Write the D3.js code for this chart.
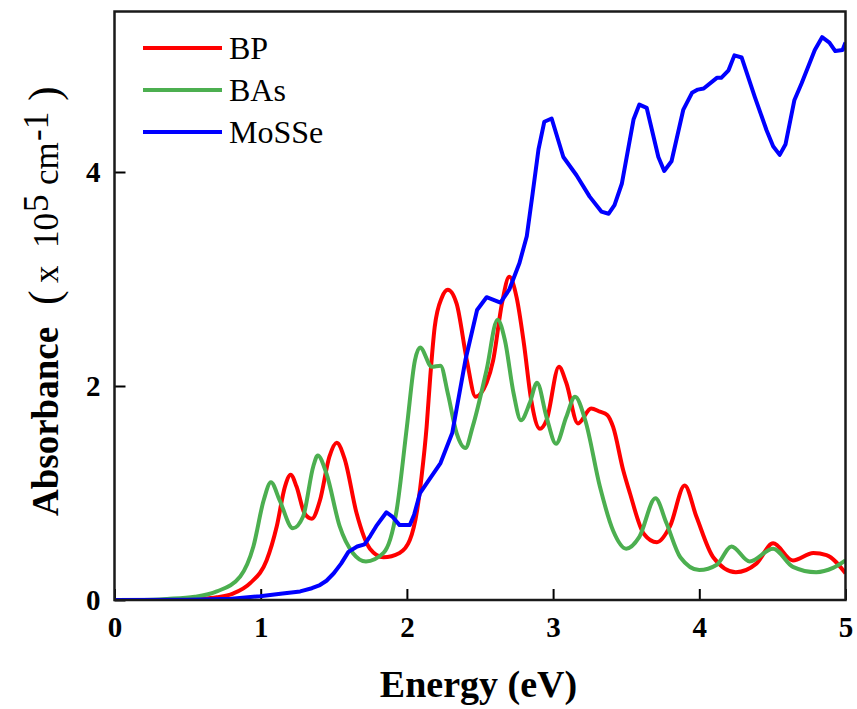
<!DOCTYPE html>
<html>
<head>
<meta charset="utf-8">
<script src="https://cdn.jsdelivr.net/npm/d3@7"></script>
<style>
  body { margin: 0; background: #fff; }
  svg { display: block; }
</style>
</head>
<body>
<div id="chart"></div>
<script>
// Energy (eV) and absorbance (x 10^5 cm^-1)
const bpEnergy = [0, 0.3, 0.5, 0.6, 0.7, 0.81, 0.93, 1.04, 1.11, 1.166, 1.205, 1.245, 1.30, 1.35, 1.405, 1.47, 1.52, 1.576, 1.656, 1.747, 1.84, 1.95, 2.02, 2.07, 2.10, 2.135, 2.16, 2.19, 2.24, 2.28, 2.34, 2.41, 2.47, 2.545, 2.59, 2.65, 2.70, 2.75, 2.80, 2.85, 2.91, 2.955, 3.04, 3.09, 3.17, 3.26, 3.32, 3.37, 3.41, 3.48, 3.525, 3.62, 3.71, 3.80, 3.90, 3.98, 4.095, 4.25, 4.39, 4.505, 4.64, 4.78, 4.87, 5.0];
const bpValues = [0, 0.001, 0.004, 0.01, 0.025, 0.06, 0.16, 0.37, 0.69, 1.06, 1.17, 1.06, 0.81, 0.76, 0.93, 1.34, 1.47, 1.31, 0.81, 0.48, 0.40, 0.44, 0.56, 0.84, 1.15, 1.62, 2.09, 2.55, 2.83, 2.90, 2.77, 2.24, 1.90, 2.03, 2.24, 2.77, 3.02, 2.83, 2.40, 1.87, 1.60, 1.68, 2.18, 2.03, 1.65, 1.79, 1.76, 1.73, 1.62, 1.21, 1.0, 0.62, 0.54, 0.69, 1.07, 0.78, 0.40, 0.26, 0.34, 0.53, 0.37, 0.44, 0.42, 0.25];

const basEnergy = [0, 0.2, 0.36, 0.55, 0.70, 0.86, 0.95, 1.02, 1.07, 1.13, 1.22, 1.29, 1.36, 1.39, 1.45, 1.54, 1.63, 1.72, 1.84, 1.93, 2.0, 2.055, 2.09, 2.17, 2.23, 2.28, 2.34, 2.40, 2.45, 2.545, 2.62, 2.67, 2.73, 2.78, 2.84, 2.89, 2.955, 3.02, 3.09, 3.15, 3.22, 3.32, 3.41, 3.50, 3.59, 3.70, 3.775, 3.87, 4.0, 4.12, 4.22, 4.345, 4.505, 4.64, 4.80, 4.915, 5.0];
const basValues = [0, 0.001, 0.01, 0.03, 0.08, 0.22, 0.50, 0.93, 1.10, 0.93, 0.67, 0.78, 1.25, 1.35, 1.18, 0.69, 0.44, 0.36, 0.44, 0.84, 1.62, 2.24, 2.36, 2.18, 2.19, 1.93, 1.56, 1.42, 1.62, 2.15, 2.62, 2.43, 1.93, 1.68, 1.84, 2.03, 1.71, 1.46, 1.71, 1.90, 1.68, 1.06, 0.65, 0.48, 0.59, 0.95, 0.72, 0.40, 0.28, 0.33, 0.50, 0.36, 0.48, 0.31, 0.26, 0.30, 0.37];

const mosseEnergy = [0, 0.5, 0.8, 0.995, 1.15, 1.27, 1.35, 1.405, 1.45, 1.50, 1.55, 1.60, 1.66, 1.71, 1.75, 1.79, 1.86, 1.90, 1.95, 2.02, 2.05, 2.09, 2.135, 2.23, 2.31, 2.40, 2.48, 2.545, 2.64, 2.70, 2.77, 2.82, 2.86, 2.90, 2.94, 2.99, 3.07, 3.16, 3.25, 3.33, 3.38, 3.42, 3.47, 3.55, 3.59, 3.64, 3.72, 3.76, 3.81, 3.89, 3.95, 3.99, 4.03, 4.12, 4.15, 4.20, 4.24, 4.29, 4.38, 4.46, 4.505, 4.55, 4.59, 4.65, 4.70, 4.79, 4.84, 4.89, 4.93, 4.98, 5.0];
const mosseValues = [0, 0.003, 0.012, 0.035, 0.06, 0.08, 0.11, 0.14, 0.18, 0.25, 0.34, 0.45, 0.50, 0.52, 0.60, 0.69, 0.82, 0.78, 0.70, 0.70, 0.80, 1.0, 1.09, 1.28, 1.56, 2.24, 2.71, 2.83, 2.78, 2.90, 3.15, 3.40, 3.80, 4.21, 4.47, 4.50, 4.14, 3.97, 3.77, 3.63, 3.61, 3.69, 3.89, 4.49, 4.63, 4.60, 4.14, 4.01, 4.10, 4.58, 4.74, 4.77, 4.78, 4.88, 4.88, 4.95, 5.09, 5.07, 4.70, 4.39, 4.24, 4.16, 4.26, 4.67, 4.83, 5.14, 5.26, 5.21, 5.13, 5.14, 5.21];

const seriesNames = ["BP", "BAs", "MoSSe"];
const xTicks = [0, 1, 2, 3, 4, 5];
const yTicks = [0, 2, 4];

const series = [
  {name: seriesNames[0], color: "#ff0000", curve: d3.curveMonotoneX,
   pts: bpEnergy.map((e, i) => [e, bpValues[i]])},
  {name: seriesNames[1], color: "#4caf50", curve: d3.curveMonotoneX,
   pts: basEnergy.map((e, i) => [e, basValues[i]])},
  {name: seriesNames[2], color: "#0000ff", curve: d3.curveLinear,
   pts: mosseEnergy.map((e, i) => [e, mosseValues[i]])}
];

const W = 857, H = 709;
const margin = {top: 11.5, right: 11.5, bottom: 109, left: 114.5};
const width = W - margin.left - margin.right,
      height = H - margin.top - margin.bottom;

const svg = d3.select("#chart").append("svg")
  .attr("width", W)
  .attr("height", H);

const g = svg.append("g")
  .attr("transform", `translate(${margin.left},${margin.top})`);

const x = d3.scaleLinear().domain([0, 5]).range([0, width]);
const y = d3.scaleLinear().domain([0, 5.5]).range([height, 0]);

const font = "'Liberation Serif', 'Times New Roman', serif";

// x axis, ticks pointing inward
const xAxis = g.append("g")
  .attr("transform", `translate(0,${height})`)
  .call(d3.axisBottom(x).tickValues(xTicks).tickFormat(d3.format("d"))
    .tickSizeInner(-11).tickSizeOuter(0).tickPadding(16));
xAxis.select(".domain").remove();
xAxis.selectAll("line").attr("stroke", "#000").attr("stroke-width", 2);
xAxis.selectAll("text")
  .style("font-family", font).style("font-weight", "bold").style("font-size", "29px");

// y axis
const yAxis = g.append("g")
  .call(d3.axisLeft(y).tickValues(yTicks).tickFormat(d3.format("d"))
    .tickSizeInner(-11).tickSizeOuter(0).tickPadding(14));
yAxis.select(".domain").remove();
yAxis.selectAll("line").attr("stroke", "#000").attr("stroke-width", 2);
yAxis.selectAll("text")
  .style("font-family", font).style("font-weight", "bold").style("font-size", "29px");

// curves
g.append("clipPath").attr("id", "plotclip")
  .append("rect").attr("width", width).attr("height", height);

series.forEach(s => {
  const line = d3.line()
    .x(d => x(d[0]))
    .y(d => y(d[1]))
    .curve(s.curve);
  g.append("path")
    .datum(s.pts)
    .attr("clip-path", "url(#plotclip)")
    .attr("fill", "none")
    .attr("stroke", s.color)
    .attr("stroke-width", 4)
    .attr("stroke-linejoin", "round")
    .attr("d", line);
});

// frame
g.append("rect")
  .attr("width", width)
  .attr("height", height)
  .attr("fill", "none")
  .attr("stroke", "#1a1a1a")
  .attr("stroke-width", 2.5);

// legend
const legend = g.append("g").attr("transform", "translate(28.5,36.5)");
series.forEach((s, i) => {
  legend.append("line")
    .attr("x1", 0).attr("x2", 79)
    .attr("y1", i * 42).attr("y2", i * 42)
    .attr("stroke", s.color).attr("stroke-width", 4);
  legend.append("text")
    .attr("x", 86).attr("y", i * 42)
    .attr("dy", "0.35em")
    .style("font-family", font).style("font-size", "32px")
    .text(s.name);
});

// axis titles
svg.append("text")
  .attr("x", 478.5)
  .attr("y", 697)
  .attr("text-anchor", "middle")
  .style("font-family", font).style("font-weight", "bold").style("font-size", "38px")
  .text("Energy (eV)");

// y title: pieces placed along the rotated baseline
const yTitle = svg.append("text")
  .attr("transform", "rotate(-90)")
  .style("font-family", font).style("font-size", "35px");
yTitle.append("tspan").attr("x", -516).attr("y", 58)
  .style("font-weight", "bold").style("font-size", "37px").text("Absorbance");
yTitle.append("tspan").attr("x", -305).attr("y", 59).style("font-size", "44px").text("(");
yTitle.append("tspan").attr("x", -283).attr("y", 58).text("x");
yTitle.append("tspan").attr("x", -248).attr("y", 58).text("10");
yTitle.append("tspan").attr("x", -212).attr("y", 48).text("5");
yTitle.append("tspan").attr("x", -185).attr("y", 58).text("cm");
yTitle.append("tspan").attr("x", -141).attr("y", 48).text("-1");
yTitle.append("tspan").attr("x", -101).attr("y", 59).style("font-size", "44px").text(")");
</script>
</body>
</html>
